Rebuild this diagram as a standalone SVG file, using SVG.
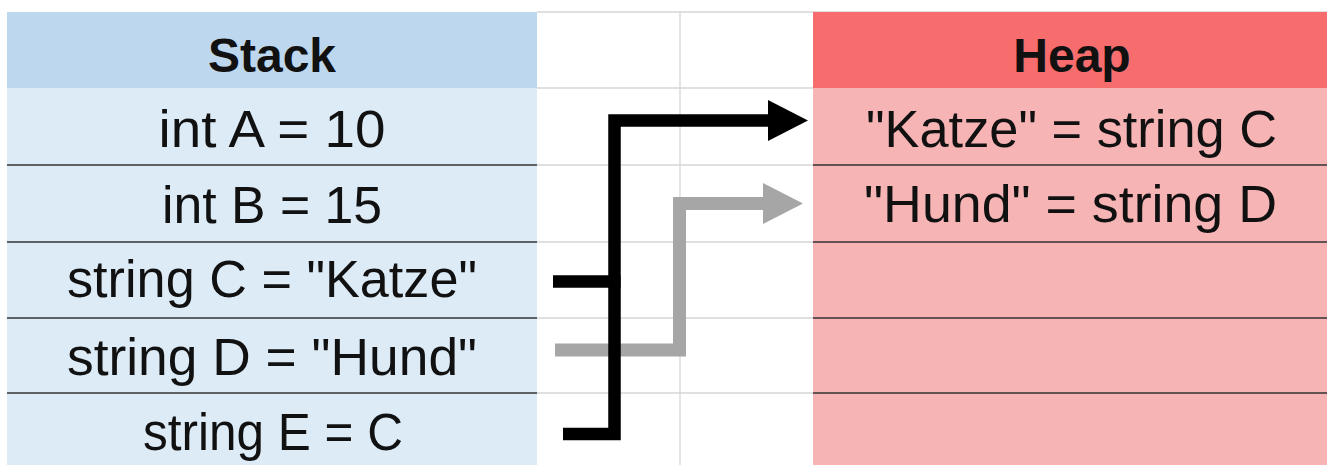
<svg xmlns="http://www.w3.org/2000/svg" width="1327" height="465" viewBox="0 0 1327 465">
<style>
.t{font-family:"Liberation Sans",Arial,sans-serif;font-size:51px;fill:#111;text-anchor:middle}
.h{font-family:"Liberation Sans",Arial,sans-serif;font-size:48px;font-weight:bold;fill:#111;text-anchor:middle}
.sh{fill:#BDD7EE}.sr{fill:#DDEBF7}.hh{fill:#F76C6C}.hr{fill:#F7B4B5}
.dl{stroke:#333;stroke-width:1.6}
.gl{stroke:#D6D6D6;stroke-width:1.3}
.blk{fill:none;stroke:#000;stroke-width:12.5;stroke-linejoin:miter}
.gry{fill:none;stroke:#A6A6A6;stroke-width:13;stroke-linejoin:miter}
</style>
<defs>
<marker id="ab" markerUnits="userSpaceOnUse" markerWidth="40" markerHeight="41" viewBox="0 0 40 41" refX="2" refY="20.5" orient="auto"><path d="M0,0 L40,20.5 L0,41 Z" fill="#000"/></marker>
<marker id="ag" markerUnits="userSpaceOnUse" markerWidth="40" markerHeight="41" viewBox="0 0 40 41" refX="2" refY="20.5" orient="auto"><path d="M0,0 L40,20.5 L0,41 Z" fill="#A6A6A6"/></marker>
</defs>
<rect width="1327" height="465" fill="#fff"/>
<g id="grid">
<line class="gl" x1="537" y1="12" x2="1327" y2="12"/>
<line class="gl" x1="537" y1="88" x2="813" y2="88"/>
<line class="gl" x1="537" y1="165" x2="813" y2="165"/>
<line class="gl" x1="537" y1="242" x2="813" y2="242"/>
<line class="gl" x1="537" y1="318" x2="813" y2="318"/>
<line class="gl" x1="537" y1="393" x2="813" y2="393"/>
<line class="gl" x1="680" y1="12" x2="680" y2="465"/>
</g>
<g id="stack-header"><rect class="sh" x="7" y="12" width="530" height="76"/><text class="h" x="272" y="72">Stack</text></g>
<g id="stack-a"><rect class="sr" x="7" y="88" width="530" height="77"/><text class="t" x="272" y="147" textLength="227" lengthAdjust="spacingAndGlyphs">int A = 10</text></g>
<g id="stack-b"><rect class="sr" x="7" y="165" width="530" height="77"/><text class="t" x="272" y="223" textLength="220" lengthAdjust="spacingAndGlyphs">int B = 15</text></g>
<g id="stack-c"><rect class="sr" x="7" y="242" width="530" height="76"/><text class="t" x="272" y="297" textLength="410" lengthAdjust="spacingAndGlyphs">string C = "Katze"</text></g>
<g id="stack-d"><rect class="sr" x="7" y="318" width="530" height="75"/><text class="t" x="272" y="375" textLength="410" lengthAdjust="spacingAndGlyphs">string D = "Hund"</text></g>
<g id="stack-e"><rect class="sr" x="7" y="393" width="530" height="72"/><text class="t" x="273" y="450" textLength="260" lengthAdjust="spacingAndGlyphs">string E = C</text></g>
<g id="stack-lines">
<line class="dl" x1="7" y1="165" x2="537" y2="165"/>
<line class="dl" x1="7" y1="242" x2="537" y2="242"/>
<line class="dl" x1="7" y1="318" x2="537" y2="318"/>
<line class="dl" x1="7" y1="393" x2="537" y2="393"/>
</g>
<g id="heap-header"><rect class="hh" x="813" y="12" width="514" height="76"/><text class="h" x="1072" y="72">Heap</text></g>
<g id="heap-c"><rect class="hr" x="813" y="88" width="514" height="77"/><text class="t" x="1071.5" y="147" textLength="411" lengthAdjust="spacingAndGlyphs">"Katze" = string C</text></g>
<g id="heap-d"><rect class="hr" x="813" y="165" width="514" height="77"/><text class="t" x="1070.5" y="222" textLength="413" lengthAdjust="spacingAndGlyphs">"Hund" = string D</text></g>
<g id="heap-3"><rect class="hr" x="813" y="242" width="514" height="76"/></g>
<g id="heap-4"><rect class="hr" x="813" y="318" width="514" height="75"/></g>
<g id="heap-5"><rect class="hr" x="813" y="393" width="514" height="72"/></g>
<g id="heap-lines">
<line class="dl" x1="813" y1="165" x2="1327" y2="165"/>
<line class="dl" x1="813" y1="242" x2="1327" y2="242"/>
<line class="dl" x1="813" y1="318" x2="1327" y2="318"/>
<line class="dl" x1="813" y1="393" x2="1327" y2="393"/>
</g>
<g id="connectors">
<path class="gry" d="M555,350 H679.5 V203.5 H765" marker-end="url(#ag)"/>
<path class="blk" d="M563,434 H614.5 V120.5 H770" marker-end="url(#ab)"/>
<path class="blk" d="M553,281.5 H620.5"/>
</g>
</svg>
